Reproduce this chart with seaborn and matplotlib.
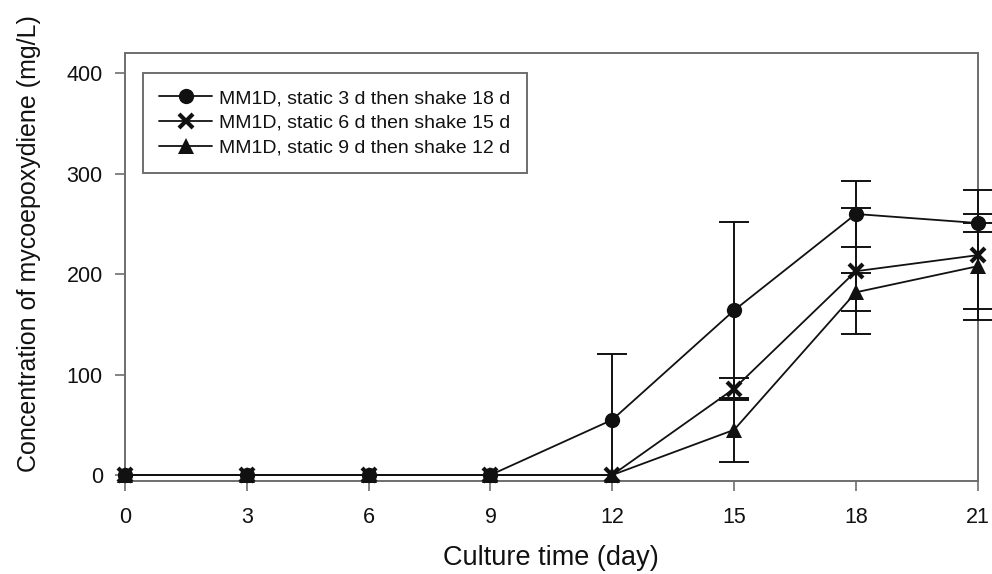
import numpy as np
import pandas as pd
import matplotlib
matplotlib.use("Agg")
import matplotlib.pyplot as plt
from matplotlib.patches import Rectangle
import seaborn as sns

# Culture days and mycoepoxydiene concentration (mg/L), mean and error
days = [0, 3, 6, 9, 12, 15, 18, 21]
static3 = [0, 0, 0, 0, 55, 164, 260, 251]
static3_err = [0, 0, 0, 0, 66, 88, 33, 9]
static6 = [0, 0, 0, 0, 0, 86, 203, 219]
static6_err = [0, 0, 0, 0, 0, 11, 63, 65]
static9 = [0, 0, 0, 0, 0, 45, 182, 208]
static9_err = [0, 0, 0, 0, 0, 32, 19, 43]

labels = [
    "MM1D, static 3 d then shake 18 d",
    "MM1D, static 6 d then shake 15 d",
    "MM1D, static 9 d then shake 12 d",
]
x_ticks = [0, 3, 6, 9, 12, 15, 18, 21]
y_ticks = [0, 100, 200, 300, 400]

sns.set_style("ticks")
plt.rcParams["font.family"] = ["Liberation Sans", "DejaVu Sans"]

frame_col = "#6e6e6e"
ink = "#111111"

fig = plt.figure(figsize=(9.92, 5.74), dpi=100)
ax = fig.add_axes([0.126, 0.1625, 0.8596, 0.7445])

# error bars may spill sideways past the frame but are cut at its bottom edge
bar_clip = Rectangle((-0.05, 0.0), 1.1, 1.0, transform=ax.transAxes,
                     facecolor="none", edgecolor="none")

series = [
    (static3, static3_err, dict(marker="o", markersize=11, markeredgewidth=0)),
    (static6, static6_err, dict(marker="x", markersize=10, markeredgewidth=3)),
    (static9, static9_err, dict(marker="^", markersize=11, markeredgewidth=0)),
]

for (vals, errs, mstyle), lab in zip(series, labels):
    df = pd.DataFrame({"day": days, "conc": vals, "err": errs})
    eb = df[df["err"] > 0]
    cont = ax.errorbar(eb["day"], eb["conc"], yerr=eb["err"], fmt="none",
                       ecolor=ink, elinewidth=1.4, capsize=11, capthick=1.4,
                       zorder=2)
    for art in cont.lines[1] + cont.lines[2]:
        art.set_clip_path(bar_clip)
    sns.lineplot(data=df, x="day", y="conc", ax=ax, color=ink, linewidth=1.3,
                 markerfacecolor=ink, markeredgecolor=ink, label=lab,
                 zorder=3, clip_on=False, **mstyle)

ax.set_xlim(0, 21)
ax.set_ylim(-5.7, 420)
ax.set_xticks(x_ticks)
ax.set_yticks(y_ticks)
ax.tick_params(axis="both", direction="out", length=7, width=1.2,
               color=frame_col, labelsize=15.5, labelcolor=ink)
ax.tick_params(axis="y", pad=9)
ax.tick_params(axis="x", pad=12)
for sp in ax.spines.values():
    sp.set_visible(True)
    sp.set_color(frame_col)
    sp.set_linewidth(1.4)
    sp.set_zorder(1)

ax.set_xlabel("Culture time (day)", fontsize=19.5, color=ink, labelpad=12.5)
ax.set_ylabel("Concentration of mycoepoxydiene (mg/L)", fontsize=18,
              color=ink)
ax.yaxis.set_label_coords(-0.099, 0.556)

leg = ax.legend(loc="upper left", bbox_to_anchor=(0.021, 0.954),
                frameon=True, fancybox=False, framealpha=1, fontsize=14,
                edgecolor=frame_col, handlelength=2.7, handletextpad=0.35,
                labelspacing=0.36, borderpad=0.85, borderaxespad=0)
leg.get_frame().set_linewidth(1.4)
for t in leg.get_texts():
    t.set_color(ink)

fig.savefig("out.png", dpi=100, facecolor="white")
